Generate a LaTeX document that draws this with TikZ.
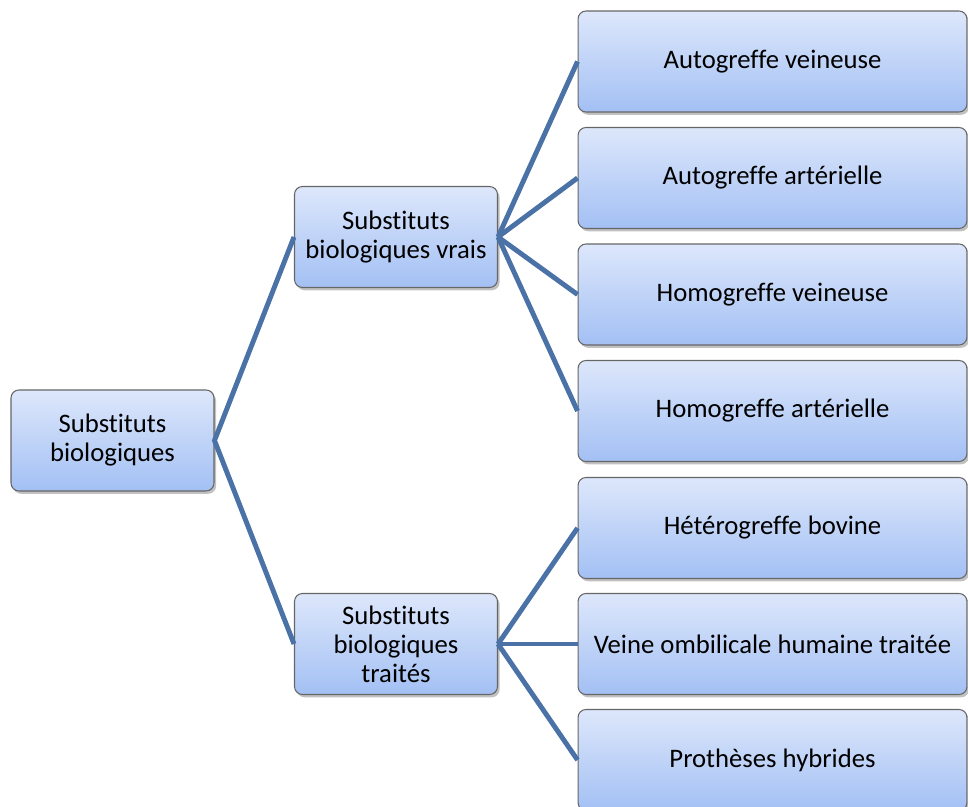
\documentclass[tikz,border=0pt]{standalone}
\usepackage{fontspec}
\setmainfont{Carlito}[Ligatures={NoCommon}]
\usepackage{xcolor}
\usetikzlibrary{positioning, shadows}

\definecolor{boxtop}{HTML}{DDE7FB}
\definecolor{boxbot}{HTML}{A3C0F4}
\definecolor{linkblue}{HTML}{4A72A6}

\begin{document}
\begin{tikzpicture}[
        x=0.02cm, y=-0.02cm,
        box/.style={rectangle, rounded corners=4.5pt, draw=black!60, line width=0.6pt,
            top color=boxtop, bottom color=boxbot, align=center,
            font=\fontsize{15.2}{16.5}\selectfont,
            drop shadow={shadow xshift=1.2pt, shadow yshift=-1.6pt, opacity=0.35, fill=black!70}},
        midbox/.style={box, minimum width=4.06cm, minimum height=2.02cm},
        leaf/.style={box, minimum width=7.78cm, minimum height=2.02cm},
        link/.style={draw=linkblue, line width=2.8pt},
    ]
        \useasboundingbox (0,0) rectangle (968,807);
        \clip (0,0) rectangle (968,807);

        % Boxes
        \node[midbox] (root) at (112.5,440.5) {Substituts\\biologiques};
        \node[midbox] (vrais) at (396,237) {Substituts\\biologiques vrais};
        \node[midbox] (traites) at (396,644) {Substituts\\biologiques\\traités};

        \node[leaf] (autov) at (772.5,61.5) {Autogreffe veineuse};
        \node[leaf] (autoa) at (772.5,178) {Autogreffe artérielle};
        \node[leaf] (homov) at (772.5,294.5) {Homogreffe veineuse};
        \node[leaf] (homoa) at (772.5,411) {Homogreffe artérielle};
        \node[leaf] (hetero) at (772.5,528) {Hétérogreffe bovine};
        \node[leaf] (veine) at (772.5,644) {Veine ombilicale humaine traitée};
        \node[leaf] (hybr) at (772.5,760) {Prothèses hybrides};

        % Links
        \draw[link] (vrais.west) -- (root.east) -- (traites.west);
        \foreach \leafname in {autov, autoa, homov, homoa}
            \draw[link] (vrais.east) -- (\leafname.west);
        \foreach \leafname in {hetero, veine, hybr}
            \draw[link] (traites.east) -- (\leafname.west);

    \end{tikzpicture}
\end{document}
